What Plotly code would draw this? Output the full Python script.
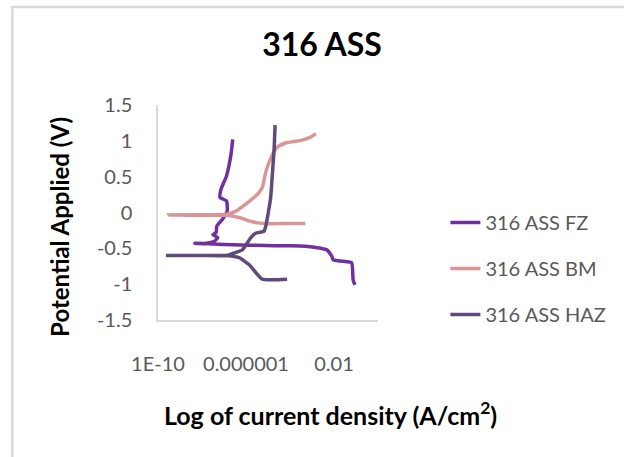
import plotly.graph_objects as go

# Current density (A/cm2) and potential (V)
fz_current = [8.9e-2, 7.4e-2, 6.3e-2, 2.5e-2, 9.3e-3, 7.9e-3, 4.7e-3, 2.5e-3, 5.0e-4, 6.3e-5,
              7.9e-6, 2.5e-7, 3.7e-8, 4.7e-9, 1.6e-8, 3.7e-8, 5.2e-8, 3.1e-8, 4.4e-8, 4.7e-8,
              8.7e-8, 1.4e-7, 1.3e-7, 6.6e-8, 7.4e-8, 1.3e-7, 2.1e-7, 2.5e-7]
fz_potential = [-1.01, -0.94, -0.70, -0.68, -0.66, -0.61, -0.52, -0.50, -0.47, -0.465,
                -0.46, -0.45, -0.44, -0.43, -0.43, -0.40, -0.35, -0.31, -0.28, -0.19,
                -0.09, 0.02, 0.16, 0.21, 0.33, 0.51, 0.82, 1.02]

bm_current = [5.0e-4, 3.2e-5, 7.9e-6, 1.95e-6, 4.9e-7, 1.3e-7, 1.0e-8, 3.0e-10, 1.0e-8, 1.3e-7,
              3.5e-7, 1.0e-6, 2.75e-6, 5.5e-6, 7.9e-6, 1.3e-5, 2.6e-5, 6.3e-5, 3.5e-4, 7.1e-4, 1.5e-3]
bm_potential = [-0.155, -0.155, -0.155, -0.13, -0.07, -0.04, -0.04, -0.035, -0.03, -0.025,
                0.02, 0.12, 0.23, 0.35, 0.56, 0.75, 0.91, 0.97, 1.01, 1.04, 1.10]

haz_current = [7.4e-5, 5.5e-6, 2.75e-6, 1.4e-6, 4.9e-7, 1.3e-7, 1.0e-8, 2.3e-10, 1.0e-8, 1.3e-7,
               2.5e-7, 6.9e-7, 1.66e-6, 2.75e-6, 6.6e-6, 7.9e-6, 1.3e-5, 1.6e-5, 1.9e-5, 2.1e-5]
haz_potential = [-0.93, -0.93, -0.835, -0.73, -0.63, -0.60, -0.60, -0.60, -0.60, -0.60,
                 -0.57, -0.52, -0.35, -0.29, -0.26, -0.19, 0.19, 0.56, 0.89, 1.22]

series_names = ["316 ASS FZ", "316 ASS BM", "316 ASS HAZ"]
x_tick_vals = [1e-10, 1e-6, 1e-2]
x_tick_text = ["1E-10", "0.000001", "0.01"]
y_tick_vals = [-1.5, -1, -0.5, 0, 0.5, 1, 1.5]
y_tick_text = ["-1.5", "-1", "-0.5", "0", "0.5", "1", "1.5"]

colors = ["#7030A0", "#DA9694", "#604A7B"]
FONT = "Lato"

fig = go.Figure()
for i, (xs, ys) in enumerate([(fz_current, fz_potential), (bm_current, bm_potential),
                              (haz_current, haz_potential)]):
    fig.add_trace(go.Scatter(x=xs, y=ys, mode="lines", name=series_names[i],
                             legendgroup=str(i),
                             line=dict(color=colors[i], width=3.5, shape="spline", smoothing=0.5)))

# plot area: x 158..380, y 105..320 in a 624x457 canvas
W, H = 624, 457
L, R, T, B = 158, 380, 105, 320
pw, ph = R - L, B - T

def px(x):
    return (x - L) / pw

def py(y):
    return (B - y) / ph

fig.update_layout(
    width=W, height=H,
    margin=dict(l=L, r=W - R, t=T, b=H - B),
    paper_bgcolor="white", plot_bgcolor="white",
    font=dict(family=FONT, color="#595959"),
    title=dict(text="<b>316 ASS</b>", x=322 / W, xanchor="center", xref="container",
               y=1 - 45 / H, yanchor="middle", yref="container",
               font=dict(family=FONT, size=32, color="#000000")),
    xaxis=dict(type="log", range=[-10, 0], tickvals=x_tick_vals, ticktext=x_tick_text,
               showgrid=False, zeroline=False, showline=True, linecolor="#D9D9D9",
               linewidth=1.5, ticks="", ticklabelstandoff=25,
               tickfont=dict(size=20, color="#595959")),
    yaxis=dict(range=[-1.5, 1.5], tickvals=y_tick_vals, ticktext=y_tick_text,
               showgrid=False, zeroline=False, showline=True, linecolor="#D9D9D9",
               linewidth=1.5, ticks="", ticklabelstandoff=20,
               tickfont=dict(size=20, color="#595959")),
    legend=dict(x=px(448), y=py(203), xanchor="left", yanchor="top",
                font=dict(size=20, color="#595959", family=FONT),
                tracegroupgap=17, itemwidth=30, bgcolor="rgba(0,0,0,0)"),
    showlegend=True,
)

fig.add_annotation(text="<b>Log of current density (A/cm<sup>2</sup>)</b>", xref="paper", yref="paper",
                   x=px(332), y=py(413), xanchor="center", yanchor="middle", showarrow=False,
                   font=dict(family=FONT, size=25, color="#000000"))
fig.add_annotation(text="<b>Potential Applied (V)</b>", xref="paper", yref="paper",
                   x=px(58), y=py(227), xanchor="center", yanchor="middle", showarrow=False,
                   textangle=-90, font=dict(family=FONT, size=24, color="#000000"))

# light border at top and left of the chart frame
fig.add_shape(type="line", xref="paper", yref="paper", x0=px(10), x1=px(W + 5),
              y0=py(7), y1=py(7), line=dict(color="#D9D9D9", width=2.5))
fig.add_shape(type="line", xref="paper", yref="paper", x0=px(11), x1=px(11),
              y0=py(6), y1=py(H + 5), line=dict(color="#D9D9D9", width=2.5))

fig.write_html("out.html", config={"displayModeBar": False},
               post_script="document.body.style.margin='0px';")
